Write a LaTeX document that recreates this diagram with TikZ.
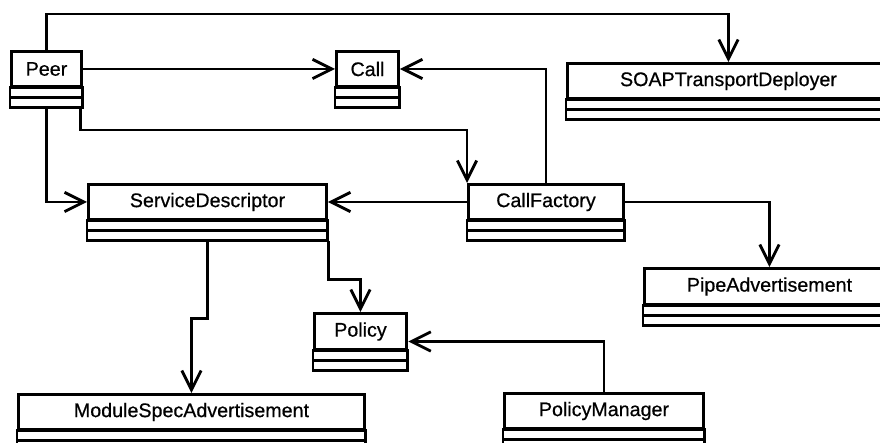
\documentclass[tikz,border=0pt]{standalone}
\usepackage{fontspec}
\setmainfont{Liberation Sans}[FakeBold=0.6]
\usetikzlibrary{arrows.meta, calc, fit}

\tikzset{
  classname/.style={draw, line width=1.7pt, inner sep=0pt, anchor=north west, font=\fontsize{11.2}{13}\selectfont},
  classpart/.style={draw, line width=1.7pt},
  assoc/.style={line width=1.6pt, -{Straight Barb[length=11pt, width=11pt]}},
}

\begin{document}
\begin{tikzpicture}[x=0.02cm, y=0.02cm]
        \useasboundingbox (0,0) rectangle (880,-443);
        \clip (0,0) rectangle (880,-443);
        
        \foreach \n/\xa/\ya/\w/\h/\t in {
            peer/10/50/70/35/Peer,
            call/335/50/62/35/Call,
            soap/566/62/322/35/SOAPTransportDeployer,
            sd/87/183/238/35/ServiceDescriptor,
            cf/467/183/155/35/CallFactory,
            pipe/643/267/250/36/PipeAdvertisement,
            policy/313/312/92/36/Policy,
            msa/17/393/346/35/ModuleSpecAdvertisement,
            pm/503/392/199/35/PolicyManager}{
            \node[classname, minimum width=\w*0.02cm, minimum height=\h*0.02cm] (\n) at (\xa,-\ya) {\t};
            \draw[classpart] (\n.south west) rectangle ($(\n.south east)+(0,-10)$);
            \draw[classpart] ($(\n.south west)+(0,-10)$) rectangle ($(\n.south east)+(0,-20)$);
            \node[fit={(\n.north west) ($(\n.south east)+(0,-20)$)}, inner sep=0pt] (\n-box) {};
        }
        
        \coordinate (top) at (0,-14);
        \coordinate (mid) at (0,-130);
        
        \draw[assoc] (peer.north) |- (top -| soap.north) -- (soap.north);
        \draw[assoc] (peer.east) -- (call.west);
        \draw[assoc] (peer-box.south) |- (sd.west);
        \draw[assoc] ($(peer-box.south east)+(-3,0)$) |- (mid -| cf.north west) -- (cf.north west);
        
        \draw[assoc] (cf.north) |- (call.east);
        \draw[assoc] (cf.west) -- (sd.east);
        \draw[assoc] (cf.east) -| (pipe.north);
        
        \draw[assoc] (sd-box.south) -- ++(0,-77) -| (msa.north);
        \draw[assoc] (sd-box.south east) -- ++(0,-38) -| (policy.north);
        \draw[assoc] (pm.north) |- (policy-box.east);
        
    \end{tikzpicture}
\end{document}
